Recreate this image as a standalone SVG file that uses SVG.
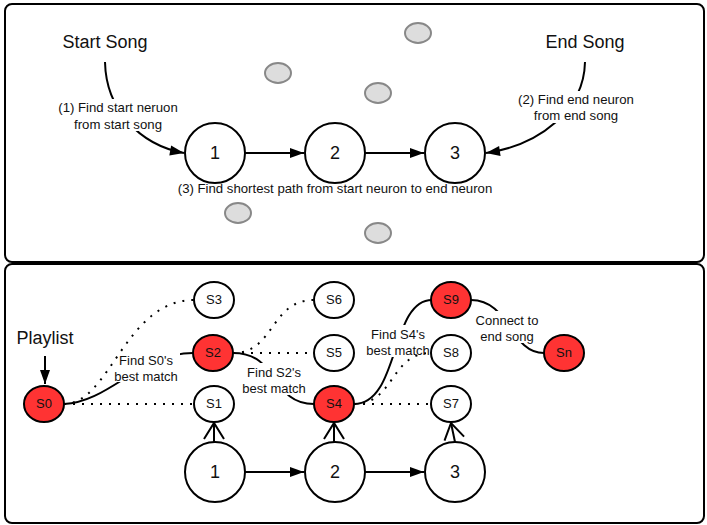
<svg xmlns="http://www.w3.org/2000/svg" width="707" height="525" viewBox="0 0 707 525">
<defs>
<style>
.panel{fill:#fff;stroke:#000;stroke-width:2}
.big{fill:#fff;stroke:#000;stroke-width:2}
.sm{fill:#fff;stroke:#000;stroke-width:2}
.red{fill:#f33;stroke:#000;stroke-width:2}
.gray{fill:#ddd;stroke:#888;stroke-width:2}
.ln{fill:none;stroke:#000;stroke-width:2}
.dot{fill:none;stroke:#000;stroke-width:2;stroke-dasharray:2 7}
text{font-family:"Liberation Sans",Arial,sans-serif;fill:#111;text-anchor:middle}
.t18{font-size:18px}
.t12{font-size:13.2px}
.t13{font-size:13px}
.bg{fill:#fff;stroke:none}
</style>
<marker id="fa" markerUnits="userSpaceOnUse" markerWidth="16" markerHeight="12" refX="14" refY="5" orient="auto" overflow="visible">
<path d="M0,0 L14,5 L0,10 z" fill="#000"/>
</marker>
<marker id="oa" markerUnits="userSpaceOnUse" markerWidth="18" markerHeight="22" refX="16" refY="10" orient="auto" overflow="visible">
<path d="M0,0 L16,10 L0,20" fill="none" stroke="#000" stroke-width="2"/>
</marker>
</defs>
<rect class="panel" x="5" y="4" width="699" height="258" rx="7"/>
<rect class="panel" x="5" y="264" width="699" height="259" rx="7"/>

<g id="connectors">
<path class="ln" d="M105,62 C106,110 140,145 184,153" marker-end="url(#fa)"/>
<path class="ln" d="M585,62 C584,110 540,145 486,153" marker-end="url(#fa)"/>
<path class="ln" d="M245,153 L304,153" marker-end="url(#fa)"/>
<path class="ln" d="M365,153 L424,153" marker-end="url(#fa)"/>
<path class="ln" d="M245,472 L304,472" marker-end="url(#fa)"/>
<path class="ln" d="M365,472 L424,472" marker-end="url(#fa)"/>
<path class="ln" d="M45,356 L45,384" marker-end="url(#fa)"/>
<path class="ln" d="M214,442 L214,423" marker-end="url(#oa)"/>
<path class="ln" d="M334,442 L334,423" marker-end="url(#oa)"/>
<path class="ln" d="M455,442 L451,423" marker-end="url(#oa)"/>
<path class="ln" d="M64,404 C110,402 140,353 193,353"/>
<path class="ln" d="M233,353 C280,353 270,404 314,404"/>
<path class="ln" d="M354,404 C400,404 390,300 432,300"/>
<path class="ln" d="M471,300 C510,300 510,353 544,353"/>
</g>

<g id="labels">
<rect class="bg" x="55" y="99" width="126" height="32"/>
<text class="t12" x="118" y="112">(1) Find start neruon</text>
<text class="t12" x="118" y="129">from start song</text>
<rect class="bg" x="515" y="91" width="122" height="32"/>
<text class="t12" x="576" y="104">(2) Find end neuron</text>
<text class="t12" x="576" y="120">from end song</text>
<text class="t12" x="335" y="193">(3) Find shortest path from start neuron to end neuron</text>
<rect class="bg" x="112" y="350" width="68" height="32"/>
<text class="t13" x="146" y="365">Find S0's</text>
<text class="t13" x="146" y="381">best match</text>
<rect class="bg" x="240" y="363" width="68" height="32"/>
<text class="t13" x="274" y="377">Find S2's</text>
<text class="t13" x="274" y="393">best match</text>
<rect class="bg" x="364" y="325" width="68" height="32"/>
<text class="t13" x="398" y="339">Find S4's</text>
<text class="t13" x="398" y="355">best match</text>
<rect class="bg" x="475" y="311" width="64" height="32"/>
<text class="t13" x="507" y="325">Connect to</text>
<text class="t13" x="507" y="341">end song</text>
</g>

<g id="dotted">
<path class="dot" d="M64,404 L194,404"/>
<path class="dot" d="M64,404 C110,404 125,300 194,300"/>
<path class="dot" d="M233,353 L314,353"/>
<path class="dot" d="M233,353 C275,353 270,300 314,300"/>
<path class="dot" d="M354,404 L431,404"/>
<path class="dot" d="M354,404 C395,404 390,353 431,353"/>
</g>

<g id="start-song"><text class="t18" x="105" y="48">Start Song</text></g>
<g id="end-song"><text class="t18" x="585" y="48">End Song</text></g>
<g id="playlist"><text class="t18" x="45" y="344">Playlist</text></g>

<g id="gray-1"><ellipse class="gray" cx="418" cy="33" rx="13" ry="10"/></g>
<g id="gray-2"><ellipse class="gray" cx="278" cy="73" rx="13" ry="10"/></g>
<g id="gray-3"><ellipse class="gray" cx="378" cy="93" rx="13" ry="10"/></g>
<g id="gray-4"><ellipse class="gray" cx="238" cy="213" rx="13" ry="10"/></g>
<g id="gray-5"><ellipse class="gray" cx="378" cy="233" rx="13" ry="10"/></g>

<g id="top-n1"><circle class="big" cx="215" cy="153" r="30"/><text class="t18" x="215" y="159">1</text></g>
<g id="top-n2"><circle class="big" cx="335" cy="153" r="30"/><text class="t18" x="335" y="159">2</text></g>
<g id="top-n3"><circle class="big" cx="455" cy="153" r="30"/><text class="t18" x="455" y="159">3</text></g>

<g id="bot-n1"><circle class="big" cx="215" cy="472" r="30"/><text class="t18" x="215" y="478">1</text></g>
<g id="bot-n2"><circle class="big" cx="335" cy="472" r="30"/><text class="t18" x="335" y="478">2</text></g>
<g id="bot-n3"><circle class="big" cx="455" cy="472" r="30"/><text class="t18" x="455" y="478">3</text></g>

<g id="S0"><ellipse class="red" cx="44" cy="404" rx="20" ry="18"/><text class="t13" x="44" y="408">S0</text></g>
<g id="S1"><ellipse class="sm" cx="214" cy="404" rx="20" ry="18"/><text class="t13" x="214" y="408">S1</text></g>
<g id="S2"><ellipse class="red" cx="213" cy="353" rx="20" ry="18"/><text class="t13" x="213" y="357">S2</text></g>
<g id="S3"><ellipse class="sm" cx="214" cy="300" rx="20" ry="18"/><text class="t13" x="214" y="304">S3</text></g>
<g id="S4"><ellipse class="red" cx="334" cy="404" rx="20" ry="18"/><text class="t13" x="334" y="408">S4</text></g>
<g id="S5"><ellipse class="sm" cx="334" cy="353" rx="20" ry="18"/><text class="t13" x="334" y="357">S5</text></g>
<g id="S6"><ellipse class="sm" cx="334" cy="300" rx="20" ry="18"/><text class="t13" x="334" y="304">S6</text></g>
<g id="S7"><ellipse class="sm" cx="451" cy="404" rx="20" ry="18"/><text class="t13" x="451" y="408">S7</text></g>
<g id="S8"><ellipse class="sm" cx="451" cy="353" rx="20" ry="18"/><text class="t13" x="451" y="357">S8</text></g>
<g id="S9"><ellipse class="red" cx="451" cy="300" rx="20" ry="18"/><text class="t13" x="451" y="304">S9</text></g>
<g id="Sn"><ellipse class="red" cx="564" cy="353" rx="20" ry="18"/><text class="t13" x="564" y="357">Sn</text></g>
</svg>
